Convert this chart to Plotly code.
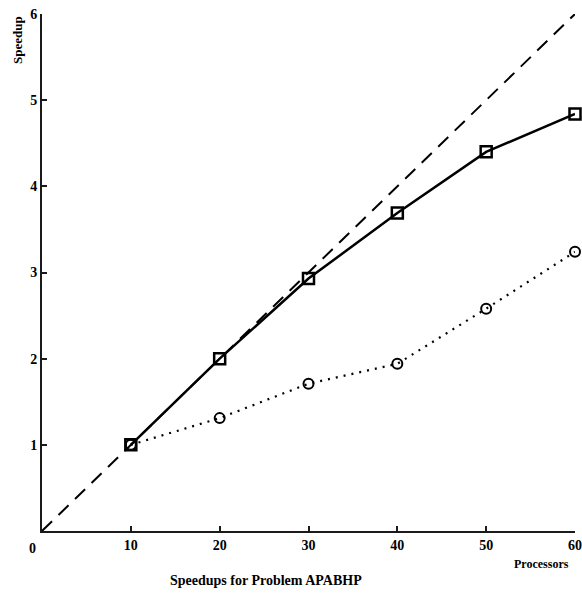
import plotly.graph_objects as go

processors = [10, 20, 30, 40, 50, 60]
speedup_squares = [1.0, 2.0, 2.93, 3.69, 4.40, 4.84]
speedup_circles = [1.0, 1.31, 1.71, 1.94, 2.58, 3.24]
ideal_x = [0, 60]
ideal_y = [0, 6]
x_ticks = [10, 20, 30, 40, 50, 60]
y_ticks = [1, 2, 3, 4, 5, 6]
X_RANGE = [0, 60]
Y_RANGE = [0, 6]

FONT = "Liberation Serif"
AXIS_COLOR = "#1a1a1a"

fig = go.Figure()
fig.add_trace(go.Scatter(x=ideal_x, y=ideal_y, mode="lines",
                         line=dict(color="black", width=2, dash="14px,9px"),
                         hoverinfo="skip", showlegend=False))
fig.add_trace(go.Scatter(x=processors, y=speedup_circles, mode="lines+markers",
                         line=dict(color="black", width=2.2, dash="2px,6px"),
                         marker=dict(symbol="circle-open", size=10, color="black",
                                     line=dict(width=2, color="black")),
                         showlegend=False, cliponaxis=False))
fig.add_trace(go.Scatter(x=processors, y=speedup_squares, mode="lines+markers",
                         line=dict(color="black", width=2.5),
                         marker=dict(symbol="square-open", size=11, color="black",
                                     line=dict(width=2.5, color="black")),
                         showlegend=False, cliponaxis=False))

axis_common = dict(ticks="inside", ticklen=5, tickwidth=1.5, tickcolor=AXIS_COLOR,
                   showgrid=False, zeroline=False, showline=True,
                   linecolor=AXIS_COLOR, linewidth=2, layer="above traces",
                   automargin=False, ticklabeloverflow="allow",
                   tickfont=dict(family=FONT, size=14, color="black"))

fig.update_layout(
    width=582, height=593,
    margin=dict(l=42, r=7, t=14, b=62),
    paper_bgcolor="white", plot_bgcolor="rgba(0,0,0,0)",
    font=dict(family=FONT, color="black", size=14),
    xaxis=dict(range=X_RANGE, tickvals=x_ticks,
               ticktext=["<b>%d</b>" % v for v in x_ticks], **axis_common),
    yaxis=dict(range=Y_RANGE, tickvals=y_ticks,
               ticktext=["<b>%d</b>" % v for v in y_ticks], **axis_common),
    annotations=[
        dict(text="<b>0</b>", xref="x", yref="paper", x=0, y=0,
             xanchor="center", yanchor="middle", xshift=-10, yshift=-17,
             showarrow=False, font=dict(family=FONT, size=14)),
        dict(text="<b>Speedup</b>", xref="paper", yref="paper", x=0, y=1,
             xanchor="center", yanchor="middle", xshift=-25, yshift=-26,
             textangle=-90, showarrow=False, font=dict(family=FONT, size=13)),
        dict(text="<b>Processors</b>", xref="x", yref="paper", x=60, y=0,
             xanchor="center", yanchor="middle", xshift=-34, yshift=-33,
             showarrow=False, font=dict(family=FONT, size=12)),
        dict(text="<b>Speedups for Problem APABHP</b>", xref="paper", yref="paper",
             x=(266 - 42) / 533, y=0, xanchor="center", yanchor="middle",
             yshift=-49, showarrow=False, font=dict(family=FONT, size=14)),
    ],
)

fig.write_html("out.html")
